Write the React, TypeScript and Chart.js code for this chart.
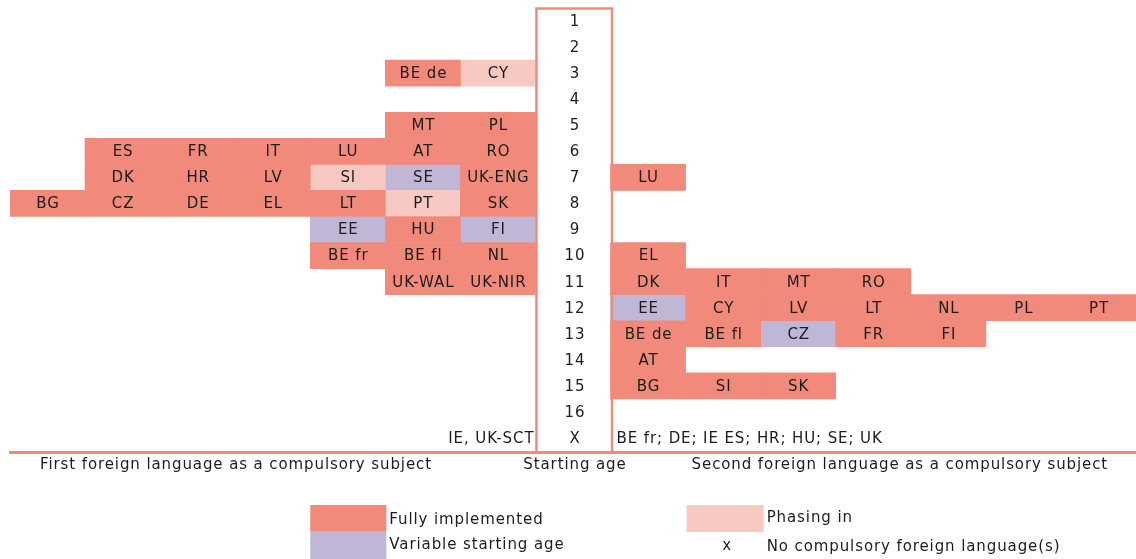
import React, { useEffect, useRef } from 'react';
import { Chart, registerables } from 'chart.js';

Chart.register(...registerables);

// ---- data -------------------------------------------------------------
const AGE_ROWS = ['1', '2', '3', '4', '5', '6', '7', '8', '9', '10', '11', '12', '13', '14', '15', '16', 'X'];

// First foreign language: countries per starting age, listed left to right
// (the last one sits next to the age column)
const FIRST_LANGUAGE: [string, string[]][] = [
  ['3', ['BE de', 'CY']],
  ['5', ['MT', 'PL']],
  ['6', ['ES', 'FR', 'IT', 'LU', 'AT', 'RO']],
  ['7', ['DK', 'HR', 'LV', 'SI', 'SE', 'UK-ENG']],
  ['8', ['BG', 'CZ', 'DE', 'EL', 'LT', 'PT', 'SK']],
  ['9', ['EE', 'HU', 'FI']],
  ['10', ['BE fr', 'BE fl', 'NL']],
  ['11', ['UK-WAL', 'UK-NIR']],
];

// Second foreign language: countries per starting age, listed left to right
const SECOND_LANGUAGE: [string, string[]][] = [
  ['7', ['LU']],
  ['10', ['EL']],
  ['11', ['DK', 'IT', 'MT', 'RO']],
  ['12', ['EE', 'CY', 'LV', 'LT', 'NL', 'PL', 'PT']],
  ['13', ['BE de', 'BE fl', 'CZ', 'FR', 'FI']],
  ['14', ['AT']],
  ['15', ['BG', 'SI', 'SK']],
];

const FIRST_PHASING_IN = ['CY', 'SI', 'PT'];
const FIRST_VARIABLE_AGE = ['SE', 'EE', 'FI'];
const SECOND_PHASING_IN: string[] = [];
const SECOND_VARIABLE_AGE = ['EE', 'CZ'];

const FIRST_NONE = 'IE, UK-SCT';
const SECOND_NONE = 'BE fr; DE; IE ES; HR; HU; SE; UK';

const STATUS_LABELS = ['Fully implemented', 'Phasing in', 'Variable starting age'];
const NONE_MARK = 'x';
const NONE_LABEL = 'No compulsory foreign language(s)';
const AXIS_TITLES = [
  'First foreign language as a compulsory subject',
  'Starting age',
  'Second foreign language as a compulsory subject',
];

// ---- styles -----------------------------------------------------------
const COLORS = ['#F18A7B', '#F8C9C3', '#C0B7D6'];
const TEXT = '#1c1c1c';
const FONT = '15px "DejaVu Sans", Verdana, sans-serif';

type Cell = { x: [number, number]; y: string; code: string };

function buildCells(): Cell[][] {
  const out: Cell[][] = [[], [], []];
  const status = (code: string, phasing: string[], variable: string[]) =>
    variable.includes(code) ? 2 : phasing.includes(code) ? 1 : 0;
  FIRST_LANGUAGE.forEach(([age, codes]) => {
    const n = codes.length;
    codes.forEach((code, j) => {
      const start = -(n - j);
      out[status(code, FIRST_PHASING_IN, FIRST_VARIABLE_AGE)].push({ x: [start, start + 1], y: age, code });
    });
  });
  SECOND_LANGUAGE.forEach(([age, codes]) => {
    codes.forEach((code, j) => {
      const start = 1 + j;
      out[status(code, SECOND_PHASING_IN, SECOND_VARIABLE_AGE)].push({ x: [start, start + 1], y: age, code });
    });
  });
  return out;
}

const decorPlugin = {
  id: 'languageDecor',
  afterDatasetsDraw(chart: any) {
    const { ctx, chartArea, scales } = chart;
    const xs = scales.x;
    const ys = scales.y;
    ctx.save();
    ctx.font = FONT;
    (ctx as any).letterSpacing = '0.9px';
    ctx.fillStyle = TEXT;
    ctx.textBaseline = 'middle';

    // cell labels
    ctx.textAlign = 'center';
    chart.data.datasets.forEach((ds: any, di: number) => {
      const meta = chart.getDatasetMeta(di);
      meta.data.forEach((el: any, i: number) => {
        const raw = ds.data[i] as Cell;
        ctx.fillText(raw.code, (el.x + el.base) / 2 + 0.5, el.y + 1);
      });
    });

    // centre column (starting age)
    const x0 = xs.getPixelForValue(0);
    const x1 = xs.getPixelForValue(1);
    ctx.strokeStyle = COLORS[0];
    ctx.lineWidth = 2.5;
    ctx.beginPath();
    ctx.moveTo(x0 + 1, chartArea.bottom);
    ctx.lineTo(x0 + 1, chartArea.top + 0.5);
    ctx.lineTo(x1 + 1.5, chartArea.top + 0.5);
    ctx.lineTo(x1 + 1.5, chartArea.bottom);
    ctx.stroke();

    // bottom rule
    ctx.lineWidth = 3;
    ctx.beginPath();
    ctx.moveTo(chartArea.left - 1, chartArea.bottom + 1.5);
    ctx.lineTo(chartArea.right, chartArea.bottom + 1.5);
    ctx.stroke();

    const cx = (x0 + x1) / 2 + 2;
    AGE_ROWS.forEach((age, i) => {
      ctx.fillText(age, cx, ys.getPixelForValue(i) + 1);
    });

    // "no compulsory" row
    const yX = ys.getPixelForValue(AGE_ROWS.length - 1) + 1;
    ctx.textAlign = 'right';
    ctx.fillText(FIRST_NONE, x0 - 1, yX);
    ctx.textAlign = 'left';
    ctx.fillText(SECOND_NONE, x1 + 6, yX);

    // axis titles
    const yT = chartArea.bottom + 14;
    ctx.textAlign = 'left';
    ctx.fillText(AXIS_TITLES[0], chartArea.left + 30, yT);
    ctx.textAlign = 'center';
    ctx.fillText(AXIS_TITLES[1], cx, yT);
    ctx.textAlign = 'left';
    ctx.fillText(AXIS_TITLES[2], xs.getPixelForValue(2) + 6, yT);

    // legend
    const bx0 = xs.getPixelForValue(-3);
    const bx1 = xs.getPixelForValue(-2);
    const px0 = xs.getPixelForValue(2);
    const px1 = xs.getPixelForValue(3);
    const lTop = chartArea.bottom + 54;
    const rowH = 26;
    ctx.fillStyle = COLORS[0];
    ctx.fillRect(bx0, lTop, bx1 - bx0 + 1, rowH);
    ctx.fillStyle = COLORS[2];
    ctx.fillRect(bx0, lTop + rowH, bx1 - bx0 + 1, rowH + 2);
    ctx.fillStyle = COLORS[1];
    ctx.fillRect(px0 + 1, lTop, px1 - px0 + 2, rowH + 1);

    ctx.fillStyle = TEXT;
    ctx.textAlign = 'left';
    ctx.fillText(STATUS_LABELS[0], bx1 + 4, lTop + 15);
    ctx.fillText(STATUS_LABELS[2], bx1 + 4, lTop + 40);
    ctx.fillText(STATUS_LABELS[1], px1 + 6, lTop + 13);
    ctx.fillText(NONE_LABEL, px1 + 6, lTop + 42);
    ctx.textAlign = 'center';
    ctx.fillText(NONE_MARK, (px0 + px1) / 2 + 4, lTop + 41);

    ctx.restore();
  },
};

export default function App() {
  const canvasRef = useRef<HTMLCanvasElement | null>(null);

  useEffect(() => {
    const canvas = canvasRef.current;
    if (!canvas) return;
    const cells = buildCells();
    const chart = new Chart(canvas, {
      type: 'bar',
      data: {
        labels: AGE_ROWS,
        datasets: STATUS_LABELS.map((label, i) => ({
          label,
          data: cells[i] as any,
          backgroundColor: COLORS[i],
          borderWidth: 0,
        })),
      },
      options: {
        indexAxis: 'y',
        responsive: false,
        animation: false,
        events: [],
        layout: { padding: { left: 10, top: 8, right: 0, bottom: 108 } },
        datasets: {
          bar: { grouped: false, categoryPercentage: 1, barPercentage: 1 },
        },
        scales: {
          x: { type: 'linear', min: -7, max: 8, display: false },
          y: { type: 'category', display: false, offset: true },
        },
        plugins: {
          legend: { display: false },
          tooltip: { enabled: false },
        },
      },
      plugins: [decorPlugin],
    });
    return () => chart.destroy();
  }, []);

  return (
    <div style={{ position: 'absolute', left: 0, top: 0, width: 1136, height: 559, background: '#fff' }}>
      <canvas ref={canvasRef} width={1136} height={559} style={{ display: 'block' }} />
    </div>
  );
}
